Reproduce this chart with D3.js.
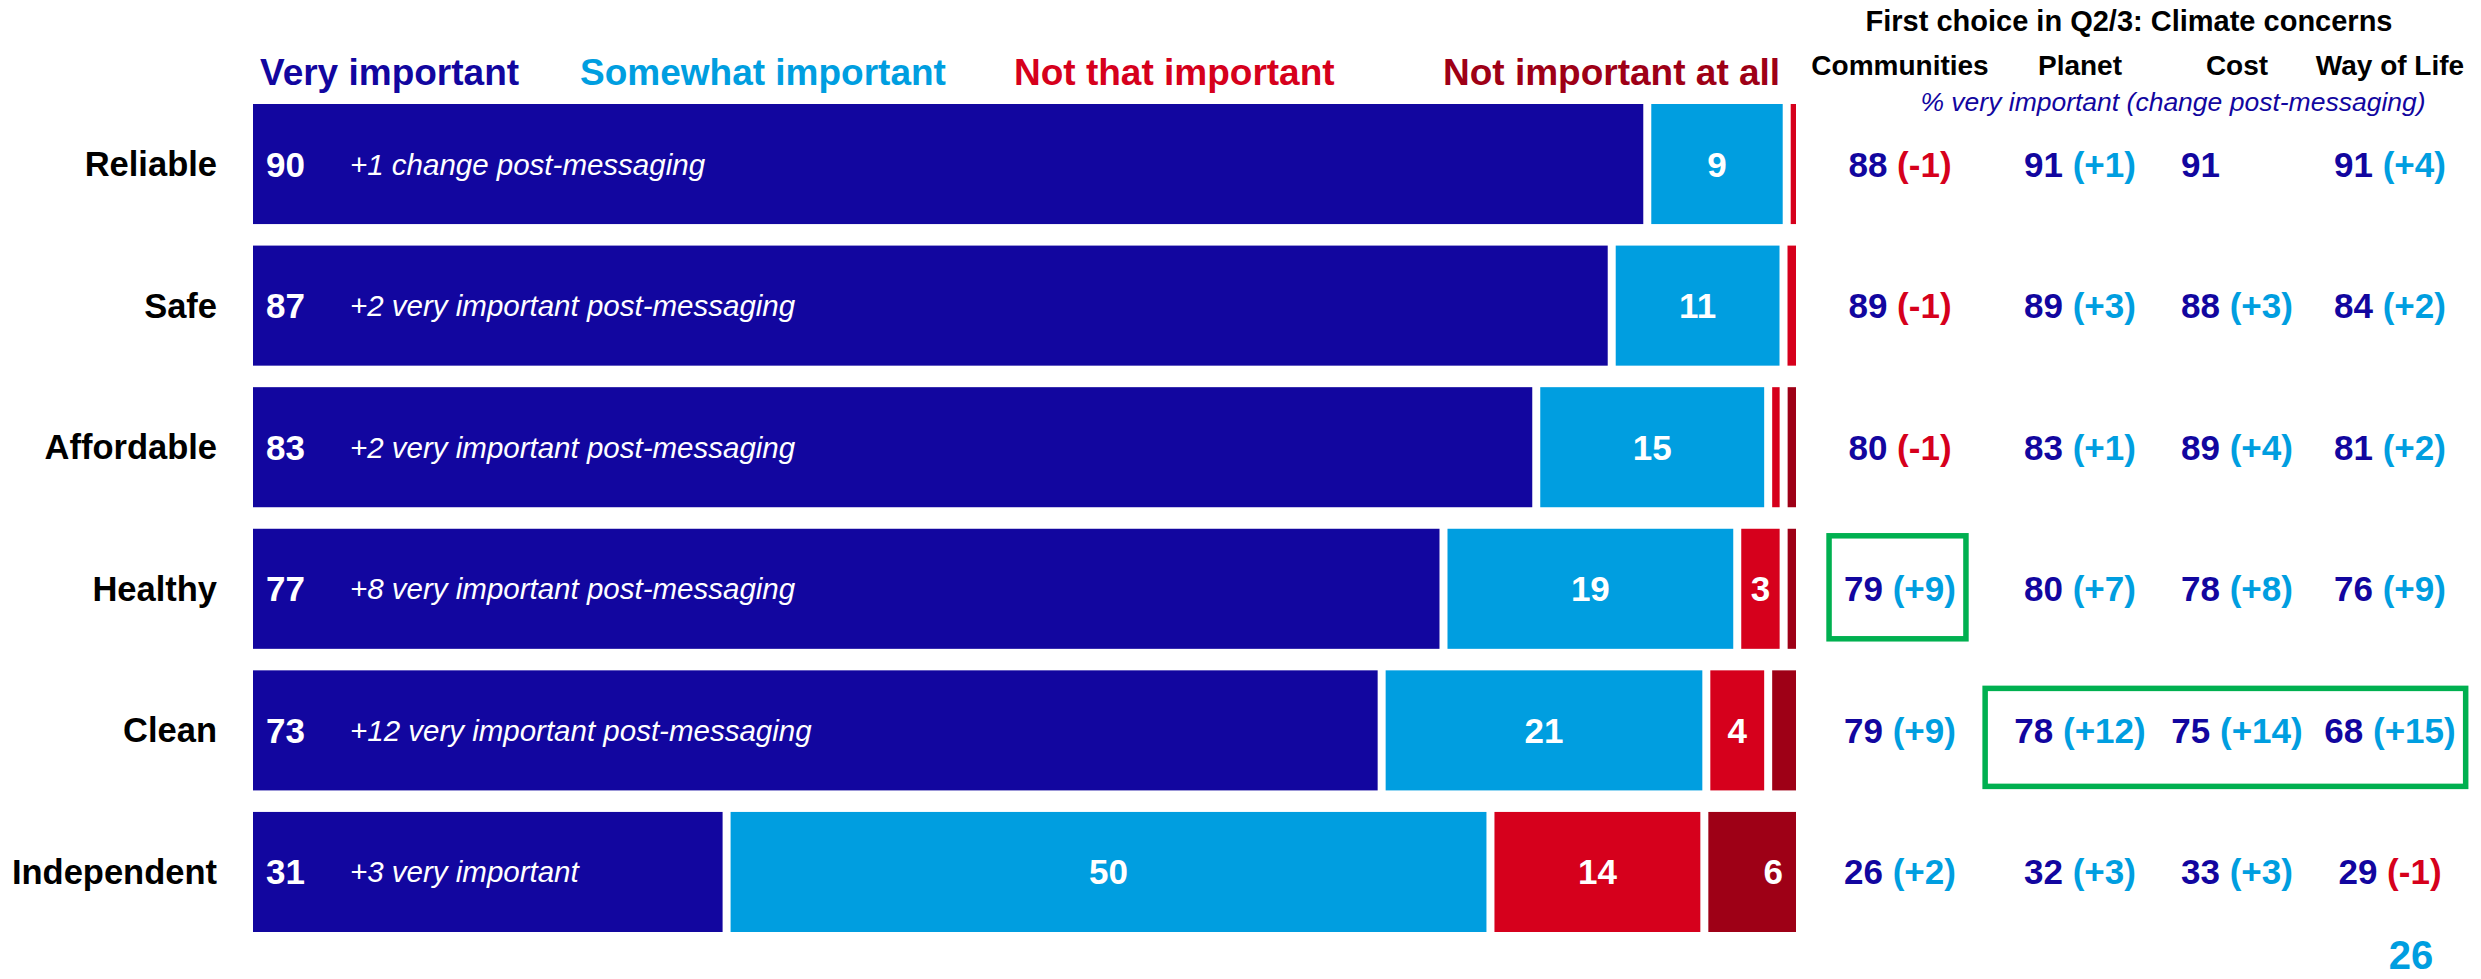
<!DOCTYPE html>
<html>
<head>
<meta charset="utf-8">
<script src="https://cdn.jsdelivr.net/npm/d3@7"></script>
<style>
  html, body { margin: 0; padding: 0; background: #ffffff; }
  svg text { font-family: "Liberation Sans", Arial, Helvetica, sans-serif; }
</style>
</head>
<body>
<svg id="chart" width="2481" height="979"></svg>
<script>
// Attributes rated for importance
const categories = ["Reliable", "Safe", "Affordable", "Healthy", "Clean", "Independent"];

// Importance levels (stack order, left to right)
const levels = ["Very important", "Somewhat important", "Not that important", "Not important at all"];

// Share of respondents per level, one value per attribute
const veryImportant      = [90, 87, 83, 77, 73, 31];
const somewhatImportant  = [9, 11, 15, 19, 21, 50];
const notThatImportant   = [0.6, 0.8, 1, 3, 4, 14];
const notImportantAtAll  = [0, 0, 0.8, 0.8, 1.8, 6];

// Change notes printed inside the "very important" segment
const notes = [
  "+1 change post-messaging",
  "+2 very important post-messaging",
  "+2 very important post-messaging",
  "+8 very important post-messaging",
  "+12 very important post-messaging",
  "+3 very important"
];

// Breakdown by first-choice climate concern: % very important and change post-messaging
const concernGroups = ["Communities", "Planet", "Cost", "Way of Life"];
const groupVeryImportant = [
  [88, 91, 91, 91],
  [89, 89, 88, 84],
  [80, 83, 89, 81],
  [79, 80, 78, 76],
  [79, 78, 75, 68],
  [26, 32, 33, 29]
];
const groupChange = [
  [-1, 1, null, 4],
  [-1, 3, 3, 2],
  [-1, 1, 4, 2],
  [9, 7, 8, 9],
  [9, 12, 14, 15],
  [2, 3, 3, -1]
];

// Cells called out with a box
const highlightRows   = ["Healthy", "Clean"];
const highlightGroups = [["Communities"], ["Planet", "Cost", "Way of Life"]];

const tableTitle = "First choice in Q2/3: Climate concerns";
const tableSubtitle = "% very important (change post-messaging)";
const pageNumber = "26";

// ---------- styling ----------
const DARK_BLUE = "#12069f";
const LIGHT_BLUE = "#009ee0";
const RED = "#d6001c";
const DARK_RED = "#9e0016";
const GREEN = "#00b050";
const colors = d3.scaleOrdinal().domain(levels).range([DARK_BLUE, LIGHT_BLUE, RED, DARK_RED]);

const svg = d3.select("#chart");

// ---------- scales ----------
const y = d3.scaleBand().domain(categories).range([104, 932]).paddingInner(0.152);
const barLeft = 253, barRight = 1796, gap = 8;

const rows = categories.map((c, i) => ({
  category: c,
  values: [veryImportant[i], somewhatImportant[i], notThatImportant[i], notImportantAtAll[i]],
  note: notes[i]
}));

// ---------- legend ----------
const legendX = d3.scaleOrdinal().domain(levels).range([260, 580, 1014, 1443]);
svg.append("g").selectAll("text")
  .data(levels)
  .join("text")
  .attr("x", d => legendX(d))
  .attr("y", 85)
  .attr("font-size", 37)
  .attr("font-weight", "bold")
  .attr("fill", d => colors(d))
  .text(d => d);

// ---------- row labels ----------
svg.append("g").selectAll("text")
  .data(categories)
  .join("text")
  .attr("x", 217)
  .attr("y", d => y(d) + y.bandwidth() / 2 + 12)
  .attr("text-anchor", "end")
  .attr("font-size", 34.5)
  .attr("font-weight", "bold")
  .attr("fill", "#000")
  .text(d => d);

// ---------- stacked bars ----------
const barG = svg.append("g");
rows.forEach(row => {
  const total = d3.sum(row.values);
  const x = d3.scaleLinear().domain([0, total]).range([barLeft, barRight]);
  const cy = y(row.category) + y.bandwidth() / 2;
  let start = 0;
  const segs = row.values.map((v, j) => {
    const s = { level: levels[j], value: v, s0: start, s1: start + v };
    start += v;
    return s;
  }).filter(s => s.value > 0);

  segs.forEach((s, k) => {
    s.left = x(s.s0) + (k === 0 ? 0 : gap / 2);
    s.right = x(s.s1) - (k === segs.length - 1 ? 0 : gap / 2);
  });

  const g = barG.append("g");
  g.selectAll("rect")
    .data(segs)
    .join("rect")
    .attr("x", d => d.left)
    .attr("y", y(row.category))
    .attr("width", d => Math.max(0, d.right - d.left))
    .attr("height", y.bandwidth())
    .attr("fill", d => colors(d.level));

  // value labels
  g.selectAll("text.val")
    .data(segs.filter(d => d.value >= 3))
    .join("text")
    .attr("class", "val")
    .attr("x", d => d.level === levels[0] ? d.left + 13
                   : d.level === levels[3] ? d.right - 13
                   : (d.left + d.right) / 2)
    .attr("y", cy + 12.5)
    .attr("text-anchor", d => d.level === levels[0] ? "start" : d.level === levels[3] ? "end" : "middle")
    .attr("font-size", 35)
    .attr("font-weight", "bold")
    .attr("fill", "#fff")
    .text(d => d3.format("d")(d.value));

  // change note
  g.append("text")
    .attr("x", barLeft + 97)
    .attr("y", cy + 10.5)
    .attr("font-size", 29.5)
    .attr("font-style", "italic")
    .attr("fill", "#fff")
    .text(row.note);
});

// ---------- concern table ----------
const colX = d3.scaleOrdinal().domain(concernGroups).range([1900, 2080, 2237, 2390]);
const tableG = svg.append("g");

tableG.append("text")
  .attr("x", 2129).attr("y", 31)
  .attr("text-anchor", "middle")
  .attr("font-size", 29)
  .attr("font-weight", "bold")
  .attr("fill", "#000")
  .text(tableTitle);

tableG.selectAll("text.head")
  .data(concernGroups)
  .join("text")
  .attr("class", "head")
  .attr("x", d => colX(d))
  .attr("y", 75)
  .attr("text-anchor", "middle")
  .attr("font-size", 28)
  .attr("font-weight", "bold")
  .attr("fill", "#000")
  .text(d => d);

tableG.append("text")
  .attr("x", 2173).attr("y", 111)
  .attr("text-anchor", "middle")
  .attr("font-size", 26.5)
  .attr("font-style", "italic")
  .attr("fill", DARK_BLUE)
  .text(tableSubtitle);

// width of a typical "nn (+n)" cell, used to line up cells without a change
const probe = tableG.append("text")
  .attr("font-size", 35).attr("font-weight", "bold").text("88 (+3)");
const typicalWidth = probe.node().getComputedTextLength();
probe.remove();

const cells = [];
categories.forEach((c, i) => {
  concernGroups.forEach((g, j) => {
    cells.push({ category: c, group: g, value: groupVeryImportant[i][j], change: groupChange[i][j] });
  });
});

const cellText = tableG.selectAll("text.cell")
  .data(cells)
  .join("text")
  .attr("class", "cell")
  .attr("x", d => d.change === null ? colX(d.group) - typicalWidth / 2 : colX(d.group))
  .attr("y", d => y(d.category) + y.bandwidth() / 2 + 12.5)
  .attr("text-anchor", d => d.change === null ? "start" : "middle")
  .attr("font-size", 35)
  .attr("font-weight", "bold");

cellText.append("tspan")
  .attr("fill", DARK_BLUE)
  .text(d => d.value);

cellText.filter(d => d.change !== null)
  .append("tspan")
  .attr("fill", d => d.change < 0 ? RED : LIGHT_BLUE)
  .text(d => " (" + (d.change > 0 ? "+" : "") + d.change + ")");

// ---------- highlight boxes ----------
highlightRows.forEach((rowName, k) => {
  const groups = highlightGroups[k];
  const rowCells = cellText.filter(d => d.category === rowName);
  const sel = rowCells.filter(d => groups.includes(d.group));
  let minX = Infinity, maxX = -Infinity;
  sel.each(function () {
    const b = this.getBBox();
    minX = Math.min(minX, b.x);
    maxX = Math.max(maxX, b.x + b.width);
  });
  // left edge: halfway to the preceding cell when there is one
  const firstIdx = concernGroups.indexOf(groups[0]);
  let left = minX - 15;
  if (firstIdx > 0) {
    const prev = rowCells.filter(d => d.group === concernGroups[firstIdx - 1]).node().getBBox();
    left = (prev.x + prev.width + minX) / 2;
  }
  const right = maxX + 10;
  const cy = y(rowName) + y.bandwidth() / 2;
  const top = firstIdx > 0 ? cy - 42 : cy - 53;
  const bottom = firstIdx > 0 ? cy + 56 : cy + 50;
  tableG.append("rect")
    .attr("x", left)
    .attr("y", top)
    .attr("width", right - left)
    .attr("height", bottom - top)
    .attr("fill", "none")
    .attr("stroke", GREEN)
    .attr("stroke-width", 5.5);
});

// ---------- page number ----------
svg.append("text")
  .attr("x", 2411).attr("y", 969)
  .attr("text-anchor", "middle")
  .attr("font-size", 40)
  .attr("font-weight", "bold")
  .attr("fill", LIGHT_BLUE)
  .text(pageNumber);
</script>
</body>
</html>
